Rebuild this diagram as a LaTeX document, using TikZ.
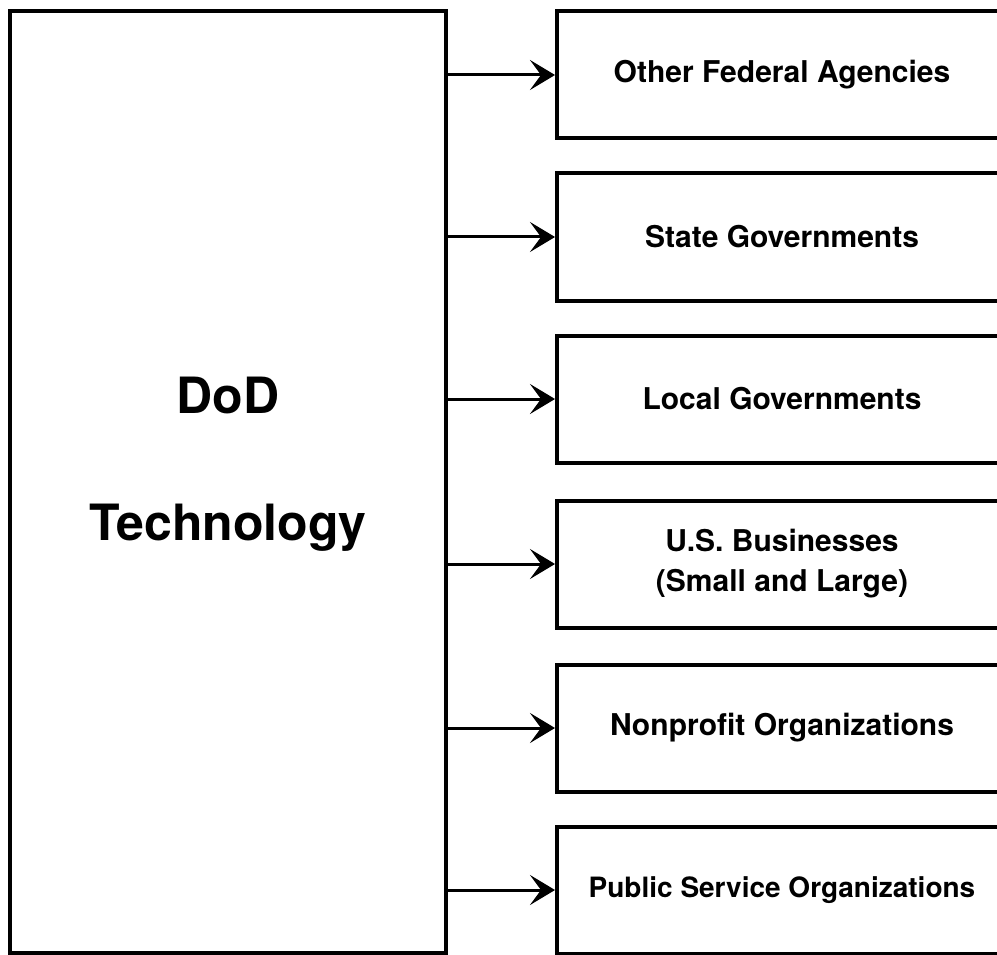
\documentclass[tikz,border=0pt]{standalone}
\usepackage{fontspec}
\setmainfont{TeX Gyre Heros}
\usetikzlibrary{arrows.meta,positioning}
\tikzset{
   tech box/.style={ rectangle, draw=black, line width=4pt, inner sep=0pt, minimum width=436pt, minimum height=942pt},
   user box/.style={ rectangle, draw=black, line width=4pt, inner sep=0pt, minimum width=450pt, minimum height=127pt, align=center, font=\bfseries\fontsize{30}{40}\selectfont},
   big label/.style={ align=center, inner sep=0pt, font=\bfseries\fontsize{50}{127}\selectfont},
   feed/.style={ -{Stealth[length=25pt,width=30pt,inset=11pt]}, line width=3pt}
}
\begin{document}
\begin{tikzpicture}[x=1pt,y=-1pt]

  \clip (0,0) rectangle (997,955);

  \node[tech box]  at (228,482) (dod)      {};
  \node[big label] at (228,464) (dod text) {DoD\\Technology};

  \node[user box] at (782,75)  (federal)   {Other Federal Agencies};
  \node[user box] at (782,237) (state)     {State Governments};
  \node[user box] at (782,399) (local)     {Local Governments};
  \node[user box] at (782,564) (business)  {U.S. Businesses\\(Small and Large)};
  \node[user box] at (782,728) (nonprofit) {Nonprofit Organizations};
  \node[user box, font=\bfseries\fontsize{28}{40}\selectfont] at (782,890) (public) {Public Service Organizations};

  %%%%%%%%%%%

  \draw[feed] (dod.east |- federal.west)   -- (federal.west);
  \draw[feed] (dod.east |- state.west)     -- (state.west);
  \draw[feed] (dod.east |- local.west)     -- (local.west);
  \draw[feed] (dod.east |- business.west)  -- (business.west);
  \draw[feed] (dod.east |- nonprofit.west) -- (nonprofit.west);
  \draw[feed] (dod.east |- public.west)    -- (public.west);

\end{tikzpicture}
\end{document}
